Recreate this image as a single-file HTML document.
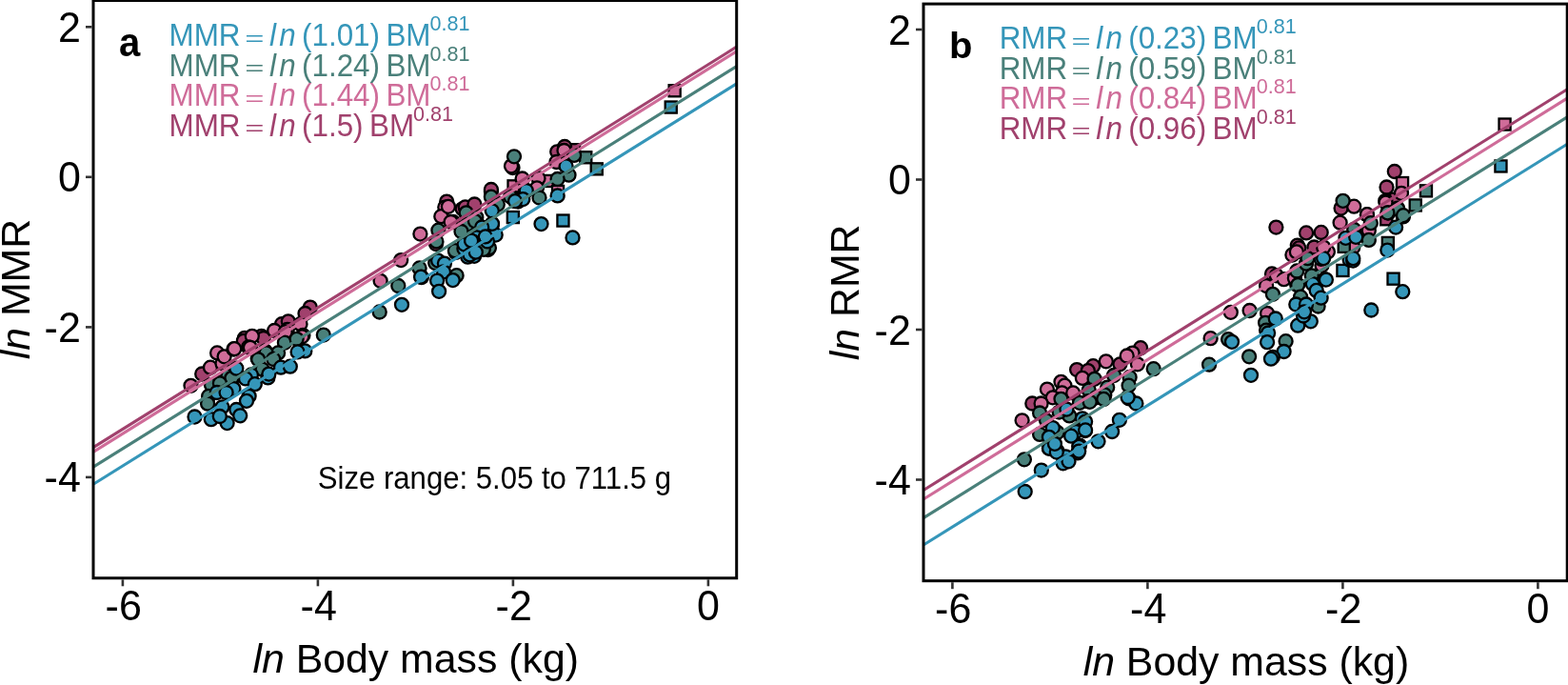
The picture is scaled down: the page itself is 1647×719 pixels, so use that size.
<!DOCTYPE html><html><head><meta charset="utf-8"><style>html,body{margin:0;padding:0;background:#fff;overflow:hidden}svg{display:block}text{font-family:"Liberation Sans", Arial, sans-serif}</style></head><body>
<svg width="1647" height="719" viewBox="0 0 1647 719">
<rect width="1647" height="719" fill="#fff"/>
<defs><clipPath id="clipa"><rect x="98.0" y="0.5" width="675.7" height="606.3"/></clipPath></defs>
<g clip-path="url(#clipa)">
<rect x="597.0" y="151.2" width="12.1" height="12.1" fill="#a1416d" stroke="#000" stroke-width="2.3"/>
<circle cx="212.2" cy="392.5" r="7" fill="#a1416d" stroke="#000" stroke-width="2.3"/>
<circle cx="257.0" cy="354.8" r="7" fill="#a1416d" stroke="#000" stroke-width="2.3"/>
<circle cx="274.6" cy="352.8" r="7" fill="#a1416d" stroke="#000" stroke-width="2.3"/>
<circle cx="255.9" cy="357.8" r="7" fill="#a1416d" stroke="#000" stroke-width="2.3"/>
<circle cx="276.8" cy="355.0" r="7" fill="#a1416d" stroke="#000" stroke-width="2.3"/>
<circle cx="296.0" cy="340.2" r="7" fill="#a1416d" stroke="#000" stroke-width="2.3"/>
<circle cx="302.8" cy="337.3" r="7" fill="#a1416d" stroke="#000" stroke-width="2.3"/>
<circle cx="325.8" cy="322.6" r="7" fill="#a1416d" stroke="#000" stroke-width="2.3"/>
<circle cx="320.5" cy="329.0" r="7" fill="#a1416d" stroke="#000" stroke-width="2.3"/>
<circle cx="469.2" cy="211.6" r="7" fill="#a1416d" stroke="#000" stroke-width="2.3"/>
<circle cx="458.0" cy="256.0" r="7" fill="#a1416d" stroke="#000" stroke-width="2.3"/>
<circle cx="485.7" cy="219.3" r="7" fill="#a1416d" stroke="#000" stroke-width="2.3"/>
<circle cx="488.7" cy="217.4" r="7" fill="#a1416d" stroke="#000" stroke-width="2.3"/>
<circle cx="498.4" cy="214.5" r="7" fill="#a1416d" stroke="#000" stroke-width="2.3"/>
<circle cx="515.9" cy="200.9" r="7" fill="#a1416d" stroke="#000" stroke-width="2.3"/>
<circle cx="515.9" cy="199.0" r="7" fill="#a1416d" stroke="#000" stroke-width="2.3"/>
<circle cx="538.5" cy="176.0" r="7" fill="#a1416d" stroke="#000" stroke-width="2.3"/>
<circle cx="585.2" cy="159.3" r="7" fill="#a1416d" stroke="#000" stroke-width="2.3"/>
<circle cx="593.1" cy="154.0" r="7" fill="#a1416d" stroke="#000" stroke-width="2.3"/>
<rect x="533.5" y="189.3" width="12.1" height="12.1" fill="#cf6c99" stroke="#000" stroke-width="2.3"/>
<rect x="570.0" y="183.9" width="12.1" height="12.1" fill="#cf6c99" stroke="#000" stroke-width="2.3"/>
<rect x="580.0" y="194.9" width="12.1" height="12.1" fill="#cf6c99" stroke="#000" stroke-width="2.3"/>
<rect x="702.6" y="89.2" width="12.1" height="12.1" fill="#cf6c99" stroke="#000" stroke-width="2.3"/>
<circle cx="200.5" cy="404.8" r="7" fill="#cf6c99" stroke="#000" stroke-width="2.3"/>
<circle cx="221.0" cy="385.7" r="7" fill="#cf6c99" stroke="#000" stroke-width="2.3"/>
<circle cx="233.5" cy="381.5" r="7" fill="#cf6c99" stroke="#000" stroke-width="2.3"/>
<circle cx="228.1" cy="370.4" r="7" fill="#cf6c99" stroke="#000" stroke-width="2.3"/>
<circle cx="235.6" cy="374.3" r="7" fill="#cf6c99" stroke="#000" stroke-width="2.3"/>
<circle cx="245.4" cy="366.5" r="7" fill="#cf6c99" stroke="#000" stroke-width="2.3"/>
<circle cx="246.2" cy="366.2" r="7" fill="#cf6c99" stroke="#000" stroke-width="2.3"/>
<circle cx="264.8" cy="352.8" r="7" fill="#cf6c99" stroke="#000" stroke-width="2.3"/>
<circle cx="261.0" cy="364.5" r="7" fill="#cf6c99" stroke="#000" stroke-width="2.3"/>
<circle cx="262.9" cy="364.8" r="7" fill="#cf6c99" stroke="#000" stroke-width="2.3"/>
<circle cx="288.2" cy="347.0" r="7" fill="#cf6c99" stroke="#000" stroke-width="2.3"/>
<circle cx="301.8" cy="346.0" r="7" fill="#cf6c99" stroke="#000" stroke-width="2.3"/>
<circle cx="315.5" cy="340.2" r="7" fill="#cf6c99" stroke="#000" stroke-width="2.3"/>
<circle cx="318.4" cy="351.9" r="7" fill="#cf6c99" stroke="#000" stroke-width="2.3"/>
<circle cx="299.7" cy="348.4" r="7" fill="#cf6c99" stroke="#000" stroke-width="2.3"/>
<circle cx="317.3" cy="353.3" r="7" fill="#cf6c99" stroke="#000" stroke-width="2.3"/>
<circle cx="399.6" cy="294.8" r="7" fill="#cf6c99" stroke="#000" stroke-width="2.3"/>
<circle cx="421.2" cy="273.1" r="7" fill="#cf6c99" stroke="#000" stroke-width="2.3"/>
<circle cx="441.4" cy="245.6" r="7" fill="#cf6c99" stroke="#000" stroke-width="2.3"/>
<circle cx="467.3" cy="217.6" r="7" fill="#cf6c99" stroke="#000" stroke-width="2.3"/>
<circle cx="463.3" cy="227.2" r="7" fill="#cf6c99" stroke="#000" stroke-width="2.3"/>
<circle cx="475.9" cy="233.0" r="7" fill="#cf6c99" stroke="#000" stroke-width="2.3"/>
<circle cx="537.0" cy="174.3" r="7" fill="#cf6c99" stroke="#000" stroke-width="2.3"/>
<circle cx="592.5" cy="158.0" r="7" fill="#cf6c99" stroke="#000" stroke-width="2.3"/>
<circle cx="584.5" cy="170.0" r="7" fill="#cf6c99" stroke="#000" stroke-width="2.3"/>
<circle cx="565.5" cy="187.2" r="7" fill="#cf6c99" stroke="#000" stroke-width="2.3"/>
<circle cx="548.6" cy="187.5" r="7" fill="#cf6c99" stroke="#000" stroke-width="2.3"/>
<circle cx="564.0" cy="197.3" r="7" fill="#cf6c99" stroke="#000" stroke-width="2.3"/>
<circle cx="473.6" cy="233.0" r="7" fill="#cf6c99" stroke="#000" stroke-width="2.3"/>
<circle cx="470.9" cy="216.8" r="7" fill="#cf6c99" stroke="#000" stroke-width="2.3"/>
<rect x="609.2" y="159.2" width="12.1" height="12.1" fill="#4a807a" stroke="#000" stroke-width="2.3"/>
<rect x="620.7" y="171.3" width="12.1" height="12.1" fill="#4a807a" stroke="#000" stroke-width="2.3"/>
<circle cx="278.5" cy="368.4" r="7" fill="#4a807a" stroke="#000" stroke-width="2.3"/>
<circle cx="298.9" cy="359.7" r="7" fill="#4a807a" stroke="#000" stroke-width="2.3"/>
<circle cx="270.7" cy="376.2" r="7" fill="#4a807a" stroke="#000" stroke-width="2.3"/>
<circle cx="292.1" cy="370.4" r="7" fill="#4a807a" stroke="#000" stroke-width="2.3"/>
<circle cx="339.8" cy="351.6" r="7" fill="#4a807a" stroke="#000" stroke-width="2.3"/>
<circle cx="311.6" cy="355.8" r="7" fill="#4a807a" stroke="#000" stroke-width="2.3"/>
<circle cx="279.6" cy="370.3" r="7" fill="#4a807a" stroke="#000" stroke-width="2.3"/>
<circle cx="271.2" cy="377.3" r="7" fill="#4a807a" stroke="#000" stroke-width="2.3"/>
<circle cx="222.0" cy="404.2" r="7" fill="#4a807a" stroke="#000" stroke-width="2.3"/>
<circle cx="219.1" cy="415.9" r="7" fill="#4a807a" stroke="#000" stroke-width="2.3"/>
<circle cx="218.1" cy="423.7" r="7" fill="#4a807a" stroke="#000" stroke-width="2.3"/>
<circle cx="231.7" cy="401.3" r="7" fill="#4a807a" stroke="#000" stroke-width="2.3"/>
<circle cx="239.5" cy="394.5" r="7" fill="#4a807a" stroke="#000" stroke-width="2.3"/>
<circle cx="247.3" cy="394.5" r="7" fill="#4a807a" stroke="#000" stroke-width="2.3"/>
<circle cx="287.2" cy="377.0" r="7" fill="#4a807a" stroke="#000" stroke-width="2.3"/>
<circle cx="275.6" cy="387.7" r="7" fill="#4a807a" stroke="#000" stroke-width="2.3"/>
<circle cx="243.4" cy="396.8" r="7" fill="#4a807a" stroke="#000" stroke-width="2.3"/>
<circle cx="230.9" cy="402.3" r="7" fill="#4a807a" stroke="#000" stroke-width="2.3"/>
<circle cx="418.3" cy="300.0" r="7" fill="#4a807a" stroke="#000" stroke-width="2.3"/>
<circle cx="398.7" cy="327.5" r="7" fill="#4a807a" stroke="#000" stroke-width="2.3"/>
<circle cx="440.6" cy="281.4" r="7" fill="#4a807a" stroke="#000" stroke-width="2.3"/>
<circle cx="457.2" cy="276.1" r="7" fill="#4a807a" stroke="#000" stroke-width="2.3"/>
<circle cx="479.6" cy="289.2" r="7" fill="#4a807a" stroke="#000" stroke-width="2.3"/>
<circle cx="478.6" cy="264.9" r="7" fill="#4a807a" stroke="#000" stroke-width="2.3"/>
<circle cx="512.7" cy="262.0" r="7" fill="#4a807a" stroke="#000" stroke-width="2.3"/>
<circle cx="460.4" cy="241.7" r="7" fill="#4a807a" stroke="#000" stroke-width="2.3"/>
<circle cx="458.4" cy="253.4" r="7" fill="#4a807a" stroke="#000" stroke-width="2.3"/>
<circle cx="518.8" cy="210.6" r="7" fill="#4a807a" stroke="#000" stroke-width="2.3"/>
<circle cx="515.9" cy="206.7" r="7" fill="#4a807a" stroke="#000" stroke-width="2.3"/>
<circle cx="489.6" cy="224.2" r="7" fill="#4a807a" stroke="#000" stroke-width="2.3"/>
<circle cx="500.3" cy="228.1" r="7" fill="#4a807a" stroke="#000" stroke-width="2.3"/>
<circle cx="492.5" cy="237.8" r="7" fill="#4a807a" stroke="#000" stroke-width="2.3"/>
<circle cx="489.7" cy="223.3" r="7" fill="#4a807a" stroke="#000" stroke-width="2.3"/>
<circle cx="522.8" cy="214.5" r="7" fill="#4a807a" stroke="#000" stroke-width="2.3"/>
<circle cx="513.9" cy="260.2" r="7" fill="#4a807a" stroke="#000" stroke-width="2.3"/>
<circle cx="477.9" cy="263.2" r="7" fill="#4a807a" stroke="#000" stroke-width="2.3"/>
<circle cx="538.3" cy="207.7" r="7" fill="#4a807a" stroke="#000" stroke-width="2.3"/>
<circle cx="540.0" cy="164.3" r="7" fill="#4a807a" stroke="#000" stroke-width="2.3"/>
<circle cx="603.1" cy="162.9" r="7" fill="#4a807a" stroke="#000" stroke-width="2.3"/>
<circle cx="597.5" cy="183.7" r="7" fill="#4a807a" stroke="#000" stroke-width="2.3"/>
<circle cx="585.6" cy="188.0" r="7" fill="#4a807a" stroke="#000" stroke-width="2.3"/>
<circle cx="566.5" cy="207.5" r="7" fill="#4a807a" stroke="#000" stroke-width="2.3"/>
<circle cx="536.1" cy="206.3" r="7" fill="#4a807a" stroke="#000" stroke-width="2.3"/>
<circle cx="490.8" cy="235.7" r="7" fill="#4a807a" stroke="#000" stroke-width="2.3"/>
<circle cx="498.9" cy="232.1" r="7" fill="#4a807a" stroke="#000" stroke-width="2.3"/>
<circle cx="484.5" cy="243.0" r="7" fill="#4a807a" stroke="#000" stroke-width="2.3"/>
<circle cx="507.8" cy="261.8" r="7" fill="#4a807a" stroke="#000" stroke-width="2.3"/>
<rect x="532.8" y="222.0" width="12.1" height="12.1" fill="#3596b9" stroke="#000" stroke-width="2.3"/>
<rect x="585.4" y="225.5" width="12.1" height="12.1" fill="#3596b9" stroke="#000" stroke-width="2.3"/>
<rect x="698.7" y="106.5" width="12.1" height="12.1" fill="#3596b9" stroke="#000" stroke-width="2.3"/>
<circle cx="238.6" cy="410.1" r="7" fill="#3596b9" stroke="#000" stroke-width="2.3"/>
<circle cx="227.8" cy="412.0" r="7" fill="#3596b9" stroke="#000" stroke-width="2.3"/>
<circle cx="245.4" cy="408.1" r="7" fill="#3596b9" stroke="#000" stroke-width="2.3"/>
<circle cx="248.3" cy="386.7" r="7" fill="#3596b9" stroke="#000" stroke-width="2.3"/>
<circle cx="263.9" cy="393.5" r="7" fill="#3596b9" stroke="#000" stroke-width="2.3"/>
<circle cx="258.0" cy="397.4" r="7" fill="#3596b9" stroke="#000" stroke-width="2.3"/>
<circle cx="281.4" cy="396.4" r="7" fill="#3596b9" stroke="#000" stroke-width="2.3"/>
<circle cx="267.8" cy="403.2" r="7" fill="#3596b9" stroke="#000" stroke-width="2.3"/>
<circle cx="261.6" cy="415.8" r="7" fill="#3596b9" stroke="#000" stroke-width="2.3"/>
<circle cx="259.0" cy="420.8" r="7" fill="#3596b9" stroke="#000" stroke-width="2.3"/>
<circle cx="248.3" cy="430.0" r="7" fill="#3596b9" stroke="#000" stroke-width="2.3"/>
<circle cx="252.2" cy="436.3" r="7" fill="#3596b9" stroke="#000" stroke-width="2.3"/>
<circle cx="233.4" cy="427.3" r="7" fill="#3596b9" stroke="#000" stroke-width="2.3"/>
<circle cx="221.8" cy="440.2" r="7" fill="#3596b9" stroke="#000" stroke-width="2.3"/>
<circle cx="238.6" cy="444.1" r="7" fill="#3596b9" stroke="#000" stroke-width="2.3"/>
<circle cx="204.5" cy="437.5" r="7" fill="#3596b9" stroke="#000" stroke-width="2.3"/>
<circle cx="230.8" cy="437.0" r="7" fill="#3596b9" stroke="#000" stroke-width="2.3"/>
<circle cx="295.0" cy="385.7" r="7" fill="#3596b9" stroke="#000" stroke-width="2.3"/>
<circle cx="304.8" cy="384.7" r="7" fill="#3596b9" stroke="#000" stroke-width="2.3"/>
<circle cx="320.3" cy="368.4" r="7" fill="#3596b9" stroke="#000" stroke-width="2.3"/>
<circle cx="312.6" cy="369.4" r="7" fill="#3596b9" stroke="#000" stroke-width="2.3"/>
<circle cx="237.6" cy="412.0" r="7" fill="#3596b9" stroke="#000" stroke-width="2.3"/>
<circle cx="282.4" cy="392.6" r="7" fill="#3596b9" stroke="#000" stroke-width="2.3"/>
<circle cx="422.0" cy="319.8" r="7" fill="#3596b9" stroke="#000" stroke-width="2.3"/>
<circle cx="442.9" cy="291.0" r="7" fill="#3596b9" stroke="#000" stroke-width="2.3"/>
<circle cx="460.1" cy="273.6" r="7" fill="#3596b9" stroke="#000" stroke-width="2.3"/>
<circle cx="466.9" cy="276.6" r="7" fill="#3596b9" stroke="#000" stroke-width="2.3"/>
<circle cx="466.0" cy="285.3" r="7" fill="#3596b9" stroke="#000" stroke-width="2.3"/>
<circle cx="459.1" cy="294.6" r="7" fill="#3596b9" stroke="#000" stroke-width="2.3"/>
<circle cx="461.1" cy="305.8" r="7" fill="#3596b9" stroke="#000" stroke-width="2.3"/>
<circle cx="475.7" cy="294.1" r="7" fill="#3596b9" stroke="#000" stroke-width="2.3"/>
<circle cx="491.3" cy="269.7" r="7" fill="#3596b9" stroke="#000" stroke-width="2.3"/>
<circle cx="498.1" cy="268.8" r="7" fill="#3596b9" stroke="#000" stroke-width="2.3"/>
<circle cx="487.4" cy="261.0" r="7" fill="#3596b9" stroke="#000" stroke-width="2.3"/>
<circle cx="442.1" cy="290.7" r="7" fill="#3596b9" stroke="#000" stroke-width="2.3"/>
<circle cx="516.8" cy="221.3" r="7" fill="#3596b9" stroke="#000" stroke-width="2.3"/>
<circle cx="516.8" cy="235.9" r="7" fill="#3596b9" stroke="#000" stroke-width="2.3"/>
<circle cx="507.1" cy="239.8" r="7" fill="#3596b9" stroke="#000" stroke-width="2.3"/>
<circle cx="520.7" cy="246.6" r="7" fill="#3596b9" stroke="#000" stroke-width="2.3"/>
<circle cx="501.3" cy="249.5" r="7" fill="#3596b9" stroke="#000" stroke-width="2.3"/>
<circle cx="487.6" cy="256.3" r="7" fill="#3596b9" stroke="#000" stroke-width="2.3"/>
<circle cx="512.0" cy="253.4" r="7" fill="#3596b9" stroke="#000" stroke-width="2.3"/>
<circle cx="544.1" cy="211.6" r="7" fill="#3596b9" stroke="#000" stroke-width="2.3"/>
<circle cx="551.9" cy="200.8" r="7" fill="#3596b9" stroke="#000" stroke-width="2.3"/>
<circle cx="594.6" cy="174.4" r="7" fill="#3596b9" stroke="#000" stroke-width="2.3"/>
<circle cx="585.6" cy="205.4" r="7" fill="#3596b9" stroke="#000" stroke-width="2.3"/>
<circle cx="552.8" cy="200.0" r="7" fill="#3596b9" stroke="#000" stroke-width="2.3"/>
<circle cx="549.3" cy="209.1" r="7" fill="#3596b9" stroke="#000" stroke-width="2.3"/>
<circle cx="541.0" cy="211.2" r="7" fill="#3596b9" stroke="#000" stroke-width="2.3"/>
<circle cx="568.5" cy="235.1" r="7" fill="#3596b9" stroke="#000" stroke-width="2.3"/>
<circle cx="601.5" cy="249.4" r="7" fill="#3596b9" stroke="#000" stroke-width="2.3"/>
<circle cx="517.0" cy="234.8" r="7" fill="#3596b9" stroke="#000" stroke-width="2.3"/>
<circle cx="506.2" cy="238.5" r="7" fill="#3596b9" stroke="#000" stroke-width="2.3"/>
<circle cx="500.7" cy="249.3" r="7" fill="#3596b9" stroke="#000" stroke-width="2.3"/>
<circle cx="509.8" cy="248.4" r="7" fill="#3596b9" stroke="#000" stroke-width="2.3"/>
<circle cx="497.1" cy="253.8" r="7" fill="#3596b9" stroke="#000" stroke-width="2.3"/>
<circle cx="493.5" cy="267.4" r="7" fill="#3596b9" stroke="#000" stroke-width="2.3"/>
<circle cx="499.8" cy="264.7" r="7" fill="#3596b9" stroke="#000" stroke-width="2.3"/>
<circle cx="495.1" cy="252.7" r="7" fill="#3596b9" stroke="#000" stroke-width="2.3"/>
<line x1="98.0" y1="508.27" x2="773.7" y2="87.77" stroke="#3596b9" stroke-width="3.1"/>
<line x1="98.0" y1="490.15" x2="773.7" y2="69.65" stroke="#4a807a" stroke-width="3.1"/>
<line x1="98.0" y1="474.40" x2="773.7" y2="53.90" stroke="#cf6c99" stroke-width="3.1"/>
<line x1="98.0" y1="469.68" x2="773.7" y2="49.18" stroke="#a1416d" stroke-width="3.1"/>
</g>
<rect x="98.0" y="0.5" width="675.7" height="606.3" fill="none" stroke="#000" stroke-width="3"/>
<line x1="128.9" y1="608.3" x2="128.9" y2="615.3" stroke="#333" stroke-width="2.6"/>
<text transform="translate(129.7 651.4) scale(1 1.04)" font-size="43" text-anchor="middle">-6</text>
<line x1="333.9" y1="608.3" x2="333.9" y2="615.3" stroke="#333" stroke-width="2.6"/>
<text transform="translate(334.7 651.4) scale(1 1.04)" font-size="43" text-anchor="middle">-4</text>
<line x1="538.9" y1="608.3" x2="538.9" y2="615.3" stroke="#333" stroke-width="2.6"/>
<text transform="translate(539.7 651.4) scale(1 1.04)" font-size="43" text-anchor="middle">-2</text>
<line x1="743.9" y1="608.3" x2="743.9" y2="615.3" stroke="#333" stroke-width="2.6"/>
<text transform="translate(743.9 651.4) scale(1 1.04)" font-size="43" text-anchor="middle">0</text>
<line x1="90.0" y1="28.3" x2="96.5" y2="28.3" stroke="#333" stroke-width="2.6"/>
<text transform="translate(84.8 43.8) scale(1 1.04)" font-size="43" text-anchor="end">2</text>
<line x1="90.0" y1="185.8" x2="96.5" y2="185.8" stroke="#333" stroke-width="2.6"/>
<text transform="translate(84.8 201.3) scale(1 1.04)" font-size="43" text-anchor="end">0</text>
<line x1="90.0" y1="343.4" x2="96.5" y2="343.4" stroke="#333" stroke-width="2.6"/>
<text transform="translate(84.8 358.9) scale(1 1.04)" font-size="43" text-anchor="end">-2</text>
<line x1="90.0" y1="500.9" x2="96.5" y2="500.9" stroke="#333" stroke-width="2.6"/>
<text transform="translate(84.8 516.4) scale(1 1.04)" font-size="43" text-anchor="end">-4</text>
<text transform="translate(436.7 706.0)" font-size="42.8" text-anchor="middle"><tspan font-style="italic">ln</tspan> Body mass (kg)</text>
<text transform="translate(30.5 303.6) rotate(-90)" font-size="42.8" text-anchor="middle"><tspan font-style="italic">ln</tspan> MMR</text>
<defs><clipPath id="clipb"><rect x="970.0" y="4.1" width="676.2" height="605.6"/></clipPath></defs>
<g clip-path="url(#clipb)">
<rect x="1450.2" y="224.2" width="12.1" height="12.1" fill="#a1416d" stroke="#000" stroke-width="2.3"/>
<rect x="1460.2" y="202.6" width="12.1" height="12.1" fill="#a1416d" stroke="#000" stroke-width="2.3"/>
<circle cx="1198.1" cy="365.2" r="7" fill="#a1416d" stroke="#000" stroke-width="2.3"/>
<circle cx="1176.4" cy="382.3" r="7" fill="#a1416d" stroke="#000" stroke-width="2.3"/>
<circle cx="1148.2" cy="384.2" r="7" fill="#a1416d" stroke="#000" stroke-width="2.3"/>
<circle cx="1131.1" cy="388.1" r="7" fill="#a1416d" stroke="#000" stroke-width="2.3"/>
<circle cx="1142.8" cy="389.1" r="7" fill="#a1416d" stroke="#000" stroke-width="2.3"/>
<circle cx="1084.3" cy="423.5" r="7" fill="#a1416d" stroke="#000" stroke-width="2.3"/>
<circle cx="1336.0" cy="287.4" r="7" fill="#a1416d" stroke="#000" stroke-width="2.3"/>
<circle cx="1340.4" cy="238.6" r="7" fill="#a1416d" stroke="#000" stroke-width="2.3"/>
<circle cx="1372.1" cy="244.4" r="7" fill="#a1416d" stroke="#000" stroke-width="2.3"/>
<circle cx="1387.7" cy="243.9" r="7" fill="#a1416d" stroke="#000" stroke-width="2.3"/>
<circle cx="1362.8" cy="257.6" r="7" fill="#a1416d" stroke="#000" stroke-width="2.3"/>
<circle cx="1380.4" cy="259.5" r="7" fill="#a1416d" stroke="#000" stroke-width="2.3"/>
<circle cx="1408.6" cy="218.6" r="7" fill="#a1416d" stroke="#000" stroke-width="2.3"/>
<circle cx="1435.9" cy="225.4" r="7" fill="#a1416d" stroke="#000" stroke-width="2.3"/>
<circle cx="1464.8" cy="180.0" r="7" fill="#a1416d" stroke="#000" stroke-width="2.3"/>
<circle cx="1456.5" cy="196.5" r="7" fill="#a1416d" stroke="#000" stroke-width="2.3"/>
<circle cx="1364.4" cy="260.4" r="7" fill="#a1416d" stroke="#000" stroke-width="2.3"/>
<rect x="1467.0" y="186.0" width="12.1" height="12.1" fill="#cf6c99" stroke="#000" stroke-width="2.3"/>
<rect x="1574.5" y="124.5" width="12.1" height="12.1" fill="#cf6c99" stroke="#000" stroke-width="2.3"/>
<circle cx="1189.6" cy="370.6" r="7" fill="#cf6c99" stroke="#000" stroke-width="2.3"/>
<circle cx="1183.7" cy="373.5" r="7" fill="#cf6c99" stroke="#000" stroke-width="2.3"/>
<circle cx="1194.9" cy="382.3" r="7" fill="#cf6c99" stroke="#000" stroke-width="2.3"/>
<circle cx="1161.8" cy="379.3" r="7" fill="#cf6c99" stroke="#000" stroke-width="2.3"/>
<circle cx="1136.9" cy="396.9" r="7" fill="#cf6c99" stroke="#000" stroke-width="2.3"/>
<circle cx="1114.5" cy="400.8" r="7" fill="#cf6c99" stroke="#000" stroke-width="2.3"/>
<circle cx="1118.4" cy="404.7" r="7" fill="#cf6c99" stroke="#000" stroke-width="2.3"/>
<circle cx="1099.9" cy="408.6" r="7" fill="#cf6c99" stroke="#000" stroke-width="2.3"/>
<circle cx="1115.5" cy="412.4" r="7" fill="#cf6c99" stroke="#000" stroke-width="2.3"/>
<circle cx="1127.2" cy="412.4" r="7" fill="#cf6c99" stroke="#000" stroke-width="2.3"/>
<circle cx="1105.8" cy="417.3" r="7" fill="#cf6c99" stroke="#000" stroke-width="2.3"/>
<circle cx="1093.6" cy="423.5" r="7" fill="#cf6c99" stroke="#000" stroke-width="2.3"/>
<circle cx="1073.6" cy="441.3" r="7" fill="#cf6c99" stroke="#000" stroke-width="2.3"/>
<circle cx="1271.6" cy="355.2" r="7" fill="#cf6c99" stroke="#000" stroke-width="2.3"/>
<circle cx="1292.8" cy="327.8" r="7" fill="#cf6c99" stroke="#000" stroke-width="2.3"/>
<circle cx="1312.6" cy="326.0" r="7" fill="#cf6c99" stroke="#000" stroke-width="2.3"/>
<circle cx="1331.1" cy="329.0" r="7" fill="#cf6c99" stroke="#000" stroke-width="2.3"/>
<circle cx="1330.1" cy="300.0" r="7" fill="#cf6c99" stroke="#000" stroke-width="2.3"/>
<circle cx="1340.8" cy="289.3" r="7" fill="#cf6c99" stroke="#000" stroke-width="2.3"/>
<circle cx="1348.6" cy="293.2" r="7" fill="#cf6c99" stroke="#000" stroke-width="2.3"/>
<circle cx="1357.4" cy="267.5" r="7" fill="#cf6c99" stroke="#000" stroke-width="2.3"/>
<circle cx="1362.2" cy="299.1" r="7" fill="#cf6c99" stroke="#000" stroke-width="2.3"/>
<circle cx="1388.5" cy="278.6" r="7" fill="#cf6c99" stroke="#000" stroke-width="2.3"/>
<circle cx="1394.9" cy="264.3" r="7" fill="#cf6c99" stroke="#000" stroke-width="2.3"/>
<circle cx="1361.9" cy="264.4" r="7" fill="#cf6c99" stroke="#000" stroke-width="2.3"/>
<circle cx="1390.1" cy="259.5" r="7" fill="#cf6c99" stroke="#000" stroke-width="2.3"/>
<circle cx="1422.2" cy="216.7" r="7" fill="#cf6c99" stroke="#000" stroke-width="2.3"/>
<circle cx="1407.6" cy="233.7" r="7" fill="#cf6c99" stroke="#000" stroke-width="2.3"/>
<circle cx="1421.3" cy="259.5" r="7" fill="#cf6c99" stroke="#000" stroke-width="2.3"/>
<circle cx="1437.8" cy="242.0" r="7" fill="#cf6c99" stroke="#000" stroke-width="2.3"/>
<circle cx="1455.3" cy="210.8" r="7" fill="#cf6c99" stroke="#000" stroke-width="2.3"/>
<circle cx="1472.0" cy="202.8" r="7" fill="#cf6c99" stroke="#000" stroke-width="2.3"/>
<circle cx="1455.5" cy="212.6" r="7" fill="#cf6c99" stroke="#000" stroke-width="2.3"/>
<circle cx="1436.0" cy="225.2" r="7" fill="#cf6c99" stroke="#000" stroke-width="2.3"/>
<circle cx="1359.9" cy="292.0" r="7" fill="#cf6c99" stroke="#000" stroke-width="2.3"/>
<rect x="1405.7" y="252.8" width="12.1" height="12.1" fill="#4a807a" stroke="#000" stroke-width="2.3"/>
<rect x="1451.8" y="248.9" width="12.1" height="12.1" fill="#4a807a" stroke="#000" stroke-width="2.3"/>
<rect x="1491.9" y="194.3" width="12.1" height="12.1" fill="#4a807a" stroke="#000" stroke-width="2.3"/>
<rect x="1480.7" y="209.4" width="12.1" height="12.1" fill="#4a807a" stroke="#000" stroke-width="2.3"/>
<circle cx="1149.6" cy="397.8" r="7" fill="#4a807a" stroke="#000" stroke-width="2.3"/>
<circle cx="1170.0" cy="394.0" r="7" fill="#4a807a" stroke="#000" stroke-width="2.3"/>
<circle cx="1186.6" cy="395.9" r="7" fill="#4a807a" stroke="#000" stroke-width="2.3"/>
<circle cx="1185.6" cy="404.7" r="7" fill="#4a807a" stroke="#000" stroke-width="2.3"/>
<circle cx="1163.2" cy="406.6" r="7" fill="#4a807a" stroke="#000" stroke-width="2.3"/>
<circle cx="1143.7" cy="409.5" r="7" fill="#4a807a" stroke="#000" stroke-width="2.3"/>
<circle cx="1160.3" cy="414.4" r="7" fill="#4a807a" stroke="#000" stroke-width="2.3"/>
<circle cx="1151.5" cy="417.3" r="7" fill="#4a807a" stroke="#000" stroke-width="2.3"/>
<circle cx="1114.5" cy="418.8" r="7" fill="#4a807a" stroke="#000" stroke-width="2.3"/>
<circle cx="1142.8" cy="421.2" r="7" fill="#4a807a" stroke="#000" stroke-width="2.3"/>
<circle cx="1211.7" cy="387.2" r="7" fill="#4a807a" stroke="#000" stroke-width="2.3"/>
<circle cx="1092.1" cy="433.5" r="7" fill="#4a807a" stroke="#000" stroke-width="2.3"/>
<circle cx="1092.1" cy="455.9" r="7" fill="#4a807a" stroke="#000" stroke-width="2.3"/>
<circle cx="1099.0" cy="441.3" r="7" fill="#4a807a" stroke="#000" stroke-width="2.3"/>
<circle cx="1110.6" cy="454.0" r="7" fill="#4a807a" stroke="#000" stroke-width="2.3"/>
<circle cx="1123.3" cy="436.4" r="7" fill="#4a807a" stroke="#000" stroke-width="2.3"/>
<circle cx="1134.0" cy="422.8" r="7" fill="#4a807a" stroke="#000" stroke-width="2.3"/>
<circle cx="1159.3" cy="418.9" r="7" fill="#4a807a" stroke="#000" stroke-width="2.3"/>
<circle cx="1144.7" cy="421.8" r="7" fill="#4a807a" stroke="#000" stroke-width="2.3"/>
<circle cx="1075.9" cy="482.3" r="7" fill="#4a807a" stroke="#000" stroke-width="2.3"/>
<circle cx="1290.1" cy="356.2" r="7" fill="#4a807a" stroke="#000" stroke-width="2.3"/>
<circle cx="1270.1" cy="382.7" r="7" fill="#4a807a" stroke="#000" stroke-width="2.3"/>
<circle cx="1312.1" cy="374.3" r="7" fill="#4a807a" stroke="#000" stroke-width="2.3"/>
<circle cx="1329.1" cy="338.8" r="7" fill="#4a807a" stroke="#000" stroke-width="2.3"/>
<circle cx="1330.1" cy="346.6" r="7" fill="#4a807a" stroke="#000" stroke-width="2.3"/>
<circle cx="1350.6" cy="358.2" r="7" fill="#4a807a" stroke="#000" stroke-width="2.3"/>
<circle cx="1336.9" cy="308.8" r="7" fill="#4a807a" stroke="#000" stroke-width="2.3"/>
<circle cx="1362.2" cy="284.5" r="7" fill="#4a807a" stroke="#000" stroke-width="2.3"/>
<circle cx="1372.0" cy="276.7" r="7" fill="#4a807a" stroke="#000" stroke-width="2.3"/>
<circle cx="1363.2" cy="299.1" r="7" fill="#4a807a" stroke="#000" stroke-width="2.3"/>
<circle cx="1377.8" cy="289.3" r="7" fill="#4a807a" stroke="#000" stroke-width="2.3"/>
<circle cx="1366.1" cy="311.7" r="7" fill="#4a807a" stroke="#000" stroke-width="2.3"/>
<circle cx="1384.6" cy="321.5" r="7" fill="#4a807a" stroke="#000" stroke-width="2.3"/>
<circle cx="1410.6" cy="210.8" r="7" fill="#4a807a" stroke="#000" stroke-width="2.3"/>
<circle cx="1422.2" cy="241.0" r="7" fill="#4a807a" stroke="#000" stroke-width="2.3"/>
<circle cx="1439.8" cy="234.2" r="7" fill="#4a807a" stroke="#000" stroke-width="2.3"/>
<circle cx="1437.8" cy="251.9" r="7" fill="#4a807a" stroke="#000" stroke-width="2.3"/>
<circle cx="1458.3" cy="223.5" r="7" fill="#4a807a" stroke="#000" stroke-width="2.3"/>
<circle cx="1468.0" cy="218.6" r="7" fill="#4a807a" stroke="#000" stroke-width="2.3"/>
<circle cx="1473.8" cy="227.4" r="7" fill="#4a807a" stroke="#000" stroke-width="2.3"/>
<circle cx="1468.2" cy="219.4" r="7" fill="#4a807a" stroke="#000" stroke-width="2.3"/>
<circle cx="1457.4" cy="223.3" r="7" fill="#4a807a" stroke="#000" stroke-width="2.3"/>
<circle cx="1474.0" cy="226.2" r="7" fill="#4a807a" stroke="#000" stroke-width="2.3"/>
<circle cx="1112.6" cy="432.6" r="7" fill="#4a807a" stroke="#000" stroke-width="2.3"/>
<circle cx="1373.5" cy="271.2" r="7" fill="#4a807a" stroke="#000" stroke-width="2.3"/>
<rect x="1404.4" y="277.9" width="12.1" height="12.1" fill="#3596b9" stroke="#000" stroke-width="2.3"/>
<rect x="1457.5" y="286.6" width="12.1" height="12.1" fill="#3596b9" stroke="#000" stroke-width="2.3"/>
<rect x="1570.4" y="168.4" width="12.1" height="12.1" fill="#3596b9" stroke="#000" stroke-width="2.3"/>
<circle cx="1185.6" cy="418.3" r="7" fill="#3596b9" stroke="#000" stroke-width="2.3"/>
<circle cx="1193.4" cy="423.5" r="7" fill="#3596b9" stroke="#000" stroke-width="2.3"/>
<circle cx="1184.6" cy="417.0" r="7" fill="#3596b9" stroke="#000" stroke-width="2.3"/>
<circle cx="1105.8" cy="449.1" r="7" fill="#3596b9" stroke="#000" stroke-width="2.3"/>
<circle cx="1101.9" cy="458.8" r="7" fill="#3596b9" stroke="#000" stroke-width="2.3"/>
<circle cx="1101.9" cy="470.5" r="7" fill="#3596b9" stroke="#000" stroke-width="2.3"/>
<circle cx="1110.6" cy="473.4" r="7" fill="#3596b9" stroke="#000" stroke-width="2.3"/>
<circle cx="1119.4" cy="479.3" r="7" fill="#3596b9" stroke="#000" stroke-width="2.3"/>
<circle cx="1120.4" cy="429.6" r="7" fill="#3596b9" stroke="#000" stroke-width="2.3"/>
<circle cx="1136.9" cy="439.3" r="7" fill="#3596b9" stroke="#000" stroke-width="2.3"/>
<circle cx="1139.8" cy="452.0" r="7" fill="#3596b9" stroke="#000" stroke-width="2.3"/>
<circle cx="1130.1" cy="453.0" r="7" fill="#3596b9" stroke="#000" stroke-width="2.3"/>
<circle cx="1134.0" cy="467.6" r="7" fill="#3596b9" stroke="#000" stroke-width="2.3"/>
<circle cx="1132.0" cy="475.4" r="7" fill="#3596b9" stroke="#000" stroke-width="2.3"/>
<circle cx="1153.5" cy="463.3" r="7" fill="#3596b9" stroke="#000" stroke-width="2.3"/>
<circle cx="1168.1" cy="453.0" r="7" fill="#3596b9" stroke="#000" stroke-width="2.3"/>
<circle cx="1175.9" cy="440.8" r="7" fill="#3596b9" stroke="#000" stroke-width="2.3"/>
<circle cx="1093.8" cy="493.6" r="7" fill="#3596b9" stroke="#000" stroke-width="2.3"/>
<circle cx="1076.7" cy="516.0" r="7" fill="#3596b9" stroke="#000" stroke-width="2.3"/>
<circle cx="1102.1" cy="470.7" r="7" fill="#3596b9" stroke="#000" stroke-width="2.3"/>
<circle cx="1109.8" cy="474.6" r="7" fill="#3596b9" stroke="#000" stroke-width="2.3"/>
<circle cx="1116.7" cy="486.3" r="7" fill="#3596b9" stroke="#000" stroke-width="2.3"/>
<circle cx="1122.5" cy="484.3" r="7" fill="#3596b9" stroke="#000" stroke-width="2.3"/>
<circle cx="1133.2" cy="468.8" r="7" fill="#3596b9" stroke="#000" stroke-width="2.3"/>
<circle cx="1133.2" cy="473.6" r="7" fill="#3596b9" stroke="#000" stroke-width="2.3"/>
<circle cx="1107.9" cy="465.8" r="7" fill="#3596b9" stroke="#000" stroke-width="2.3"/>
<circle cx="1294.0" cy="358.8" r="7" fill="#3596b9" stroke="#000" stroke-width="2.3"/>
<circle cx="1314.0" cy="393.8" r="7" fill="#3596b9" stroke="#000" stroke-width="2.3"/>
<circle cx="1339.8" cy="334.5" r="7" fill="#3596b9" stroke="#000" stroke-width="2.3"/>
<circle cx="1332.1" cy="349.5" r="7" fill="#3596b9" stroke="#000" stroke-width="2.3"/>
<circle cx="1331.1" cy="359.2" r="7" fill="#3596b9" stroke="#000" stroke-width="2.3"/>
<circle cx="1348.6" cy="369.0" r="7" fill="#3596b9" stroke="#000" stroke-width="2.3"/>
<circle cx="1336.9" cy="374.8" r="7" fill="#3596b9" stroke="#000" stroke-width="2.3"/>
<circle cx="1335.0" cy="376.7" r="7" fill="#3596b9" stroke="#000" stroke-width="2.3"/>
<circle cx="1363.2" cy="341.7" r="7" fill="#3596b9" stroke="#000" stroke-width="2.3"/>
<circle cx="1376.8" cy="337.3" r="7" fill="#3596b9" stroke="#000" stroke-width="2.3"/>
<circle cx="1369.0" cy="331.5" r="7" fill="#3596b9" stroke="#000" stroke-width="2.3"/>
<circle cx="1387.6" cy="271.8" r="7" fill="#3596b9" stroke="#000" stroke-width="2.3"/>
<circle cx="1391.5" cy="293.2" r="7" fill="#3596b9" stroke="#000" stroke-width="2.3"/>
<circle cx="1378.8" cy="298.1" r="7" fill="#3596b9" stroke="#000" stroke-width="2.3"/>
<circle cx="1382.7" cy="304.9" r="7" fill="#3596b9" stroke="#000" stroke-width="2.3"/>
<circle cx="1387.6" cy="312.7" r="7" fill="#3596b9" stroke="#000" stroke-width="2.3"/>
<circle cx="1361.3" cy="319.5" r="7" fill="#3596b9" stroke="#000" stroke-width="2.3"/>
<circle cx="1372.0" cy="319.5" r="7" fill="#3596b9" stroke="#000" stroke-width="2.3"/>
<circle cx="1370.0" cy="327.3" r="7" fill="#3596b9" stroke="#000" stroke-width="2.3"/>
<circle cx="1417.7" cy="272.8" r="7" fill="#3596b9" stroke="#000" stroke-width="2.3"/>
<circle cx="1421.2" cy="273.6" r="7" fill="#3596b9" stroke="#000" stroke-width="2.3"/>
<circle cx="1392.9" cy="293.6" r="7" fill="#3596b9" stroke="#000" stroke-width="2.3"/>
<circle cx="1390.1" cy="271.2" r="7" fill="#3596b9" stroke="#000" stroke-width="2.3"/>
<circle cx="1413.5" cy="249.8" r="7" fill="#3596b9" stroke="#000" stroke-width="2.3"/>
<circle cx="1424.2" cy="248.8" r="7" fill="#3596b9" stroke="#000" stroke-width="2.3"/>
<circle cx="1457.3" cy="262.6" r="7" fill="#3596b9" stroke="#000" stroke-width="2.3"/>
<circle cx="1421.3" cy="271.2" r="7" fill="#3596b9" stroke="#000" stroke-width="2.3"/>
<circle cx="1466.1" cy="238.6" r="7" fill="#3596b9" stroke="#000" stroke-width="2.3"/>
<circle cx="1473.3" cy="306.2" r="7" fill="#3596b9" stroke="#000" stroke-width="2.3"/>
<circle cx="1440.3" cy="325.5" r="7" fill="#3596b9" stroke="#000" stroke-width="2.3"/>
<circle cx="1140.1" cy="442.6" r="7" fill="#3596b9" stroke="#000" stroke-width="2.3"/>
<circle cx="1125.1" cy="457.7" r="7" fill="#3596b9" stroke="#000" stroke-width="2.3"/>
<circle cx="1140.1" cy="451.4" r="7" fill="#3596b9" stroke="#000" stroke-width="2.3"/>
<line x1="970.0" y1="572.03" x2="1646.2" y2="151.22" stroke="#3596b9" stroke-width="3.1"/>
<line x1="970.0" y1="543.68" x2="1646.2" y2="122.87" stroke="#4a807a" stroke-width="3.1"/>
<line x1="970.0" y1="523.99" x2="1646.2" y2="103.18" stroke="#cf6c99" stroke-width="3.1"/>
<line x1="970.0" y1="514.54" x2="1646.2" y2="93.73" stroke="#a1416d" stroke-width="3.1"/>
</g>
<rect x="970.0" y="4.1" width="676.2" height="605.6" fill="none" stroke="#000" stroke-width="3"/>
<line x1="1000.4" y1="611.2" x2="1000.4" y2="618.2" stroke="#333" stroke-width="2.6"/>
<text transform="translate(1001.2 654.3) scale(1 1.04)" font-size="43" text-anchor="middle">-6</text>
<line x1="1205.4" y1="611.2" x2="1205.4" y2="618.2" stroke="#333" stroke-width="2.6"/>
<text transform="translate(1206.2 654.3) scale(1 1.04)" font-size="43" text-anchor="middle">-4</text>
<line x1="1410.4" y1="611.2" x2="1410.4" y2="618.2" stroke="#333" stroke-width="2.6"/>
<text transform="translate(1411.2 654.3) scale(1 1.04)" font-size="43" text-anchor="middle">-2</text>
<line x1="1615.4" y1="611.2" x2="1615.4" y2="618.2" stroke="#333" stroke-width="2.6"/>
<text transform="translate(1615.4 654.3) scale(1 1.04)" font-size="43" text-anchor="middle">0</text>
<line x1="962.0" y1="31.0" x2="968.5" y2="31.0" stroke="#333" stroke-width="2.6"/>
<text transform="translate(956.8 46.5) scale(1 1.04)" font-size="43" text-anchor="end">2</text>
<line x1="962.0" y1="188.5" x2="968.5" y2="188.5" stroke="#333" stroke-width="2.6"/>
<text transform="translate(956.8 204.0) scale(1 1.04)" font-size="43" text-anchor="end">0</text>
<line x1="962.0" y1="346.0" x2="968.5" y2="346.0" stroke="#333" stroke-width="2.6"/>
<text transform="translate(956.8 361.5) scale(1 1.04)" font-size="43" text-anchor="end">-2</text>
<line x1="962.0" y1="503.5" x2="968.5" y2="503.5" stroke="#333" stroke-width="2.6"/>
<text transform="translate(956.8 519.0) scale(1 1.04)" font-size="43" text-anchor="end">-4</text>
<text transform="translate(1308.9 708.9)" font-size="42.8" text-anchor="middle"><tspan font-style="italic">ln</tspan> Body mass (kg)</text>
<text transform="translate(902.0 306.9) rotate(-90)" font-size="42.8" text-anchor="middle"><tspan font-style="italic">ln</tspan> RMR</text>
<text transform="translate(124.90 58.50) scale(1 1.060)" font-size="40" font-weight="bold">a</text>
<text transform="translate(997.10 61.40) scale(1 0.990)" font-size="40" font-weight="bold">b</text>
<text transform="translate(333.80 513.00) scale(1 1.050)" font-size="31.12" >Size range: 5.05 to 711.5 g</text>
<text transform="translate(0 48.10) scale(1 1.050)" font-size="31.4" fill="#3596b9"><tspan x="177.50" y="0">MMR</tspan><tspan x="283.00" font-style="italic">l</tspan><tspan x="293.20" font-style="italic">n</tspan><tspan x="317.00">(1.01)</tspan><tspan x="405.40">BM</tspan><tspan x="451.50" y="-15.2" font-size="21.6">0.81</tspan></text><text transform="translate(257.20 47.50) scale(1.1 0.7)" font-size="31.4" fill="#3596b9">=</text>
<text transform="translate(0 79.60) scale(1 1.050)" font-size="31.4" fill="#4a807a"><tspan x="177.50" y="0">MMR</tspan><tspan x="283.00" font-style="italic">l</tspan><tspan x="293.20" font-style="italic">n</tspan><tspan x="317.00">(1.24)</tspan><tspan x="405.40">BM</tspan><tspan x="451.50" y="-15.2" font-size="21.6">0.81</tspan></text><text transform="translate(257.20 79.00) scale(1.1 0.7)" font-size="31.4" fill="#4a807a">=</text>
<text transform="translate(0 111.10) scale(1 1.050)" font-size="31.4" fill="#cf6c99"><tspan x="177.50" y="0">MMR</tspan><tspan x="283.00" font-style="italic">l</tspan><tspan x="293.20" font-style="italic">n</tspan><tspan x="317.00">(1.44)</tspan><tspan x="405.40">BM</tspan><tspan x="451.50" y="-15.2" font-size="21.6">0.81</tspan></text><text transform="translate(257.20 110.50) scale(1.1 0.7)" font-size="31.4" fill="#cf6c99">=</text>
<text transform="translate(0 142.60) scale(1 1.050)" font-size="31.4" fill="#a1416d"><tspan x="177.50" y="0">MMR</tspan><tspan x="283.00" font-style="italic">l</tspan><tspan x="293.20" font-style="italic">n</tspan><tspan x="317.00">(1.5)</tspan><tspan x="388.00">BM</tspan><tspan x="434.10" y="-15.2" font-size="21.6">0.81</tspan></text><text transform="translate(257.20 142.00) scale(1.1 0.7)" font-size="31.4" fill="#a1416d">=</text>
<text transform="translate(0 51.40) scale(1 1.050)" font-size="31.4" fill="#3596b9"><tspan x="1049.70" y="0">RMR</tspan><tspan x="1151.20" font-style="italic">l</tspan><tspan x="1161.40" font-style="italic">n</tspan><tspan x="1185.20">(0.23)</tspan><tspan x="1273.60">BM</tspan><tspan x="1319.70" y="-15.2" font-size="21.6">0.81</tspan></text><text transform="translate(1125.40 50.80) scale(1.1 0.7)" font-size="31.4" fill="#3596b9">=</text>
<text transform="translate(0 82.90) scale(1 1.050)" font-size="31.4" fill="#4a807a"><tspan x="1049.70" y="0">RMR</tspan><tspan x="1151.20" font-style="italic">l</tspan><tspan x="1161.40" font-style="italic">n</tspan><tspan x="1185.20">(0.59)</tspan><tspan x="1273.60">BM</tspan><tspan x="1319.70" y="-15.2" font-size="21.6">0.81</tspan></text><text transform="translate(1125.40 82.30) scale(1.1 0.7)" font-size="31.4" fill="#4a807a">=</text>
<text transform="translate(0 114.40) scale(1 1.050)" font-size="31.4" fill="#cf6c99"><tspan x="1049.70" y="0">RMR</tspan><tspan x="1151.20" font-style="italic">l</tspan><tspan x="1161.40" font-style="italic">n</tspan><tspan x="1185.20">(0.84)</tspan><tspan x="1273.60">BM</tspan><tspan x="1319.70" y="-15.2" font-size="21.6">0.81</tspan></text><text transform="translate(1125.40 113.80) scale(1.1 0.7)" font-size="31.4" fill="#cf6c99">=</text>
<text transform="translate(0 145.90) scale(1 1.050)" font-size="31.4" fill="#a1416d"><tspan x="1049.70" y="0">RMR</tspan><tspan x="1151.20" font-style="italic">l</tspan><tspan x="1161.40" font-style="italic">n</tspan><tspan x="1185.20">(0.96)</tspan><tspan x="1273.60">BM</tspan><tspan x="1319.70" y="-15.2" font-size="21.6">0.81</tspan></text><text transform="translate(1125.40 145.30) scale(1.1 0.7)" font-size="31.4" fill="#a1416d">=</text>
</svg></body></html>
